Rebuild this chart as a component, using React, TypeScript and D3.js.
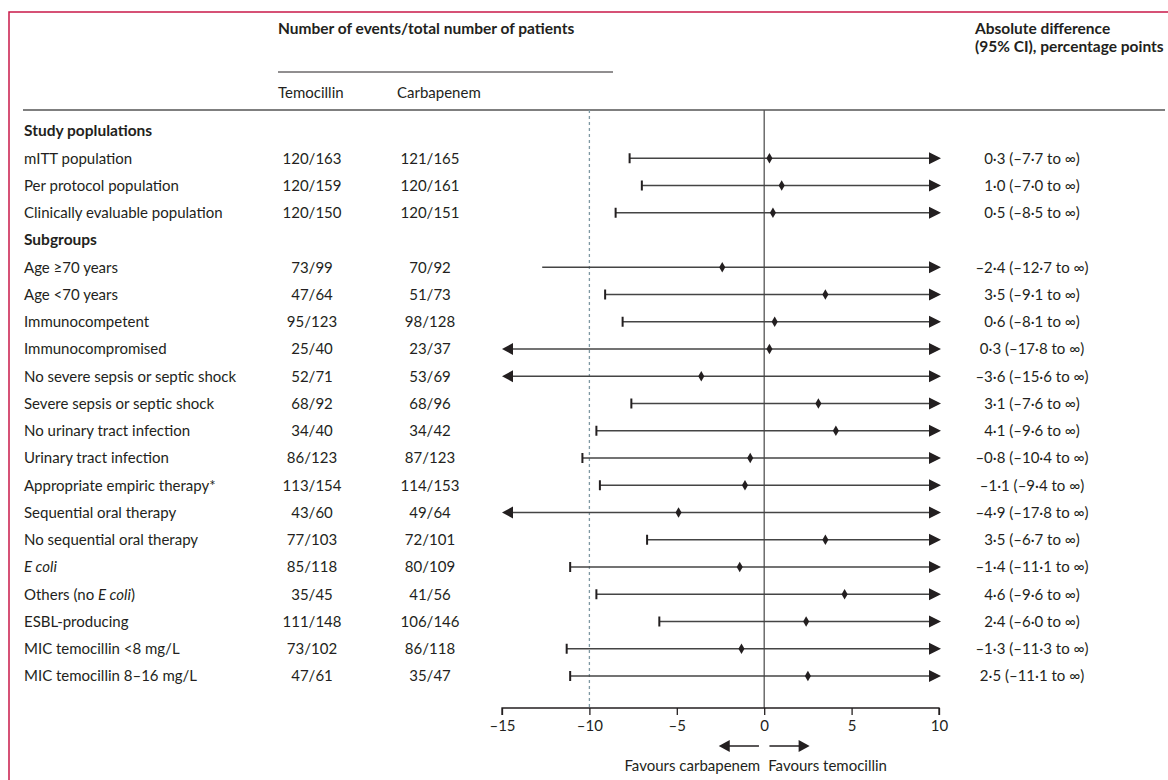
import * as d3 from 'd3';
import { useEffect, useRef } from 'react';

// rows of the table; null values mean a section heading
const labels = [
  'Study poplulations',
  'mITT population',
  'Per protocol population',
  'Clinically evaluable population',
  'Subgroups',
  'Age ≥70 years',
  'Age <70 years',
  'Immunocompetent',
  'Immunocompromised',
  'No severe sepsis or septic shock',
  'Severe sepsis or septic shock',
  'No urinary tract infection',
  'Urinary tract infection',
  'Appropriate empiric therapy*',
  'Sequential oral therapy',
  'No sequential oral therapy',
  'E coli',
  'Others (no E coli)',
  'ESBL-producing',
  'MIC temocillin <8 mg/L',
  'MIC temocillin 8–16 mg/L'
];
const headings = ['Study poplulations', 'Subgroups'];
const temocillin = [null, '120/163', '120/159', '120/150', null, '73/99', '47/64', '95/123', '25/40', '52/71', '68/92', '34/40', '86/123', '113/154', '43/60', '77/103', '85/118', '35/45', '111/148', '73/102', '47/61'];
const carbapenem = [null, '121/165', '120/161', '120/151', null, '70/92', '51/73', '98/128', '23/37', '53/69', '68/96', '34/42', '87/123', '114/153', '49/64', '72/101', '80/109', '41/56', '106/146', '86/118', '35/47'];
const estimate = [null, 0.3, 1.0, 0.5, null, -2.4, 3.5, 0.6, 0.3, -3.6, 3.1, 4.1, -0.8, -1.1, -4.9, 3.5, -1.4, 4.6, 2.4, -1.3, 2.5];
const lower = [null, -7.7, -7.0, -8.5, null, -12.7, -9.1, -8.1, -17.8, -15.6, -7.6, -9.6, -10.4, -9.4, -17.8, -6.7, -11.1, -9.6, -6.0, -11.3, -11.1];
const uncapped = ['Age ≥70 years'];
const xTicks = [-15, -10, -5, 0, 5, 10];
const margin = -10;

const FONT = 'Lato, sans-serif';
const FS = 15;

const fmt = (v) => (v < 0 ? '–' : '') + Math.abs(v).toFixed(1).replace('.', '·');

export default function App() {
  const ref = useRef(null);

  useEffect(() => {
    const svg = d3.select(ref.current);
    svg.selectAll('*').remove();
    const width = 1168;
    const height = 780;

    const x = d3.scaleLinear().domain([-15, 10]).range([502, 939]);
    const y = d3.scalePoint().domain(d3.range(labels.length)).range([131, 676]);
    const axisY = 708;
    const plotTop = 110;

    // frame
    svg.append('path').attr('d', `M9,${height} V12 H${width}`).attr('fill', 'none').attr('stroke', '#c9184a').attr('stroke-width', 1.5);

    const txt = (g, s, xx, yy, opts = {}) =>
      g
        .append('text')
        .attr('x', xx)
        .attr('y', yy)
        .attr('dy', '0.35em')
        .attr('font-family', FONT)
        .attr('font-size', opts.size || (opts.bold ? 15.5 : FS))
        .attr('font-weight', opts.bold ? 700 : 400)
        .attr('text-anchor', opts.anchor || 'start')
        .attr('fill', '#231f20')
        .text(s);

    // header
    txt(svg, 'Number of events/total number of patients', 278, 29, { bold: true });
    svg.append('line').attr('x1', 278).attr('x2', 613).attr('y1', 72).attr('y2', 72).attr('stroke', '#231f20').attr('stroke-width', 1);
    txt(svg, 'Temocillin', 278, 93);
    txt(svg, 'Carbapenem', 397, 93);
    txt(svg, 'Absolute difference', 975, 29, { bold: true });
    txt(svg, '(95% CI), percentage points', 975, 47, { bold: true });
    svg.append('line').attr('x1', 23).attr('x2', 1165).attr('y1', plotTop).attr('y2', plotTop).attr('stroke', '#555').attr('stroke-width', 1.5);

    // reference lines
    svg.append('line').attr('x1', x(margin)).attr('x2', x(margin)).attr('y1', plotTop).attr('y2', axisY)
      .attr('stroke', '#7f99a3').attr('stroke-width', 1.3).attr('stroke-dasharray', '3,3');
    svg.append('line').attr('x1', x(0)).attr('x2', x(0)).attr('y1', plotTop).attr('y2', axisY).attr('stroke', '#555').attr('stroke-width', 1.3);

    // rows
    const rows = svg.append('g');
    labels.forEach((lab, i) => {
      const yy = y(i);
      const isHead = headings.includes(lab);
      if (lab === 'E coli') {
        rows.append('text').attr('x', 24).attr('y', yy).attr('dy', '0.35em').attr('font-family', FONT).attr('font-size', FS)
          .attr('font-style', 'italic').attr('fill', '#231f20').text(lab);
      } else if (lab === 'Others (no E coli)') {
        const t = rows.append('text').attr('x', 24).attr('y', yy).attr('dy', '0.35em').attr('font-family', FONT).attr('font-size', FS).attr('fill', '#231f20');
        t.append('tspan').text('Others (no ');
        t.append('tspan').attr('font-style', 'italic').text('E coli');
        t.append('tspan').text(')');
      } else {
        txt(rows, lab, 24, yy, { bold: isHead });
      }
      if (isHead) return;
      txt(rows, temocillin[i], 312, yy, { anchor: 'middle' });
      txt(rows, carbapenem[i], 430, yy, { anchor: 'middle' });
      txt(rows, `${fmt(estimate[i])} (${fmt(lower[i])} to ∞)`, 1032, yy, { anchor: 'middle' });

      const lo = Math.max(lower[i], -15);
      const x0 = x(lo);
      const x1 = x(10);
      const clipped = lower[i] < -15;
      rows.append('line').attr('x1', clipped ? x0 + 8 : x0).attr('x2', x1 - 8).attr('y1', yy).attr('y2', yy).attr('stroke', '#444').attr('stroke-width', 1.5);
      // right arrow (upper bound is infinite)
      rows.append('path').attr('d', `M${x1 + 2},${yy} L${x1 - 10},${yy - 6} L${x1 - 10},${yy + 6} Z`).attr('fill', '#231f20');
      if (clipped) {
        rows.append('path').attr('d', `M${x0},${yy} L${x0 + 11},${yy - 6} L${x0 + 11},${yy + 6} Z`).attr('fill', '#231f20');
      } else if (!uncapped.includes(lab)) {
        rows.append('line').attr('x1', x0).attr('x2', x0).attr('y1', yy - 5).attr('y2', yy + 5).attr('stroke', '#231f20').attr('stroke-width', 2);
      }
      rows.append('path').attr('transform', `translate(${x(estimate[i])},${yy})`)
        .attr('d', d3.symbol(d3.symbolDiamond, 32)()).attr('fill', '#231f20');
    });

    // axis
    const axis = svg.append('g').attr('transform', `translate(0,${axisY})`)
      .call(d3.axisBottom(x).tickValues(xTicks).tickSize(7).tickPadding(5).tickFormat((d) => (d < 0 ? '–' + Math.abs(d) : String(d))));
    axis.select('.domain').attr('stroke', '#231f20').attr('stroke-width', 1.3).attr('d', `M${x(-15)},7V0H${x(10)}V7`);
    axis.selectAll('.tick line').attr('stroke', '#231f20').attr('stroke-width', 1.3);
    axis.selectAll('.tick text').attr('font-family', FONT).attr('font-size', FS).attr('fill', '#231f20');

    // favours arrows
    const ay = 746;
    svg.append('line').attr('x1', x(-0.3)).attr('x2', x(-2.2)).attr('y1', ay).attr('y2', ay).attr('stroke', '#231f20').attr('stroke-width', 1.5);
    svg.append('path').attr('d', `M${x(-2.6)},${ay} L${x(-2.6) + 11},${ay - 6} L${x(-2.6) + 11},${ay + 6} Z`).attr('fill', '#231f20');
    svg.append('line').attr('x1', x(0.3)).attr('x2', x(2.2)).attr('y1', ay).attr('y2', ay).attr('stroke', '#231f20').attr('stroke-width', 1.5);
    svg.append('path').attr('d', `M${x(2.6)},${ay} L${x(2.6) - 11},${ay - 6} L${x(2.6) - 11},${ay + 6} Z`).attr('fill', '#231f20');
    txt(svg, 'Favours carbapenem', x(0) - 4, 766, { anchor: 'end' });
    txt(svg, 'Favours temocillin', x(0) + 4, 766);
  }, []);

  return <svg ref={ref} width={1168} height={780} style={{ display: 'block', position: 'absolute', left: 0, top: 0 }} />;
}
